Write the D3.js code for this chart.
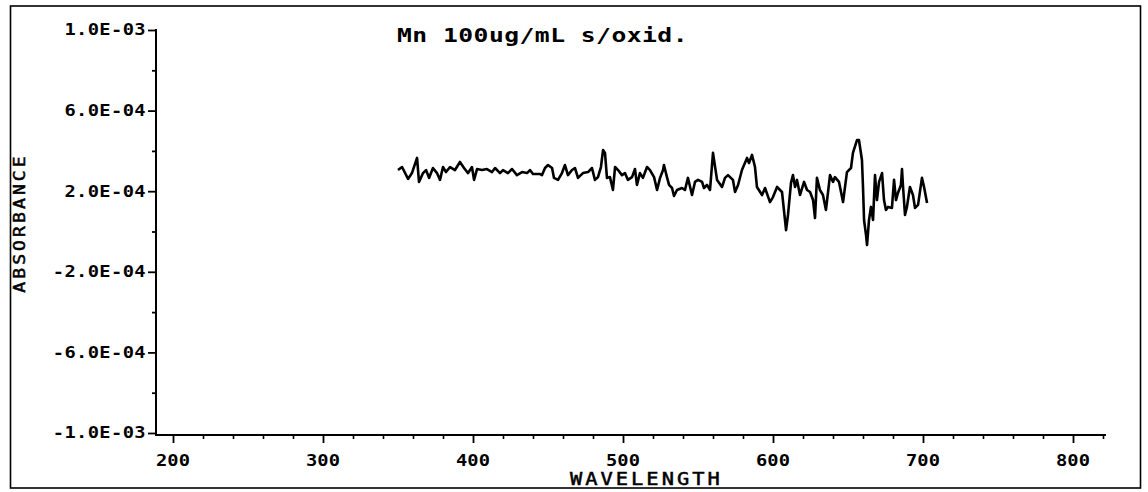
<!DOCTYPE html>
<html>
<head>
<meta charset="utf-8">
<script src="https://cdn.jsdelivr.net/npm/d3@7"></script>
<style>
  html, body { margin: 0; padding: 0; background: #fff; }
  svg { display: block; }
  text { font-family: "DejaVu Sans Mono", "Liberation Mono", monospace; fill: #000; }
</style>
</head>
<body>
<svg id="chart" width="1148" height="492"></svg>
<script>
// ---- Data ----
const titleText = "Mn 100ug/mL s/oxid.";
const xLabel = "WAVELENGTH";
const yLabel = "ABSORBANCE";
const xMajorTicks = [200, 300, 400, 500, 600, 700, 800];
const yMajorTicks = [1.0e-3, 6.0e-4, 2.0e-4, -2.0e-4, -6.0e-4, -1.0e-3];
const yMinorTicks = [8e-4, 4e-4, 0, -4e-4, -8e-4];

// wavelength (nm)
const wavelength = [
  350, 352.7, 356.7, 359.3, 362.7, 364, 366.7, 368.7, 370.7, 373.3, 376, 378, 380, 382, 384.7, 388,
  391.3, 394, 396.7, 399.3, 400.7, 402.7, 406, 409.3, 412.7, 414.7, 418, 420, 423.3, 426, 429.3,
  432.7, 436, 438, 440, 444.7, 446, 448, 450, 452.7, 454, 456.7, 459.3, 461.3, 463.3, 466, 468,
  470, 473.3, 476.7, 479.3, 481.3, 483.3, 485.3, 486.7, 488, 489.3, 491.3, 493.3, 494.7, 496.7,
  499.3, 501.3, 503.3, 506, 508, 509.3, 511.3, 513.3, 516, 518, 520.7, 522.7, 524.7, 526.7, 527.3,
  529.3, 530.7, 532.7, 534, 536, 539.3, 541.3, 543.3, 546, 548, 550, 552.7, 554, 556, 558, 560,
  560.7, 562.7, 566, 568, 570, 573.3, 574.7, 576.7, 579.3, 582.7, 584, 586, 588, 589.3, 592.7,
  594.7, 598, 600, 602.7, 606, 608, 608.7, 610, 612, 613.3, 614.7, 616, 618, 620.7, 622.7, 624.7,
  626.7, 628, 629.3, 631.3, 633.3, 635.3, 636.7, 638, 640, 641.3, 644, 646.7, 648, 649.3, 652,
  653.3, 656, 657.3, 659.3, 660, 660.7, 662, 662.7, 664, 665.3, 666.7, 668, 669.3, 670.7, 672.7,
  674, 675.3, 676.7, 679.3, 680.7, 682, 683.3, 685.3, 686, 686.7, 688, 689.3, 691.3, 693.3, 694.7,
  696.7, 699.3, 700.7, 702.7
];
// absorbance, in units of 1E-04
const absorbanceE4 = [
  3.05, 3.20, 2.61, 2.90, 3.65, 2.46, 2.90, 3.05, 2.66, 3.15, 2.90, 2.56, 3.20, 2.95, 3.20, 3.05,
  3.45, 3.15, 2.90, 3.20, 2.56, 3.10, 3.05, 3.10, 2.95, 3.15, 2.90, 3.05, 2.90, 3.10, 2.80,
  2.95, 2.90, 3.05, 2.85, 2.85, 2.80, 3.15, 3.30, 3.15, 2.66, 2.56, 2.90, 3.30, 2.80, 3.05, 3.15,
  2.66, 2.90, 2.95, 3.15, 2.56, 2.70, 3.20, 4.04, 3.90, 2.66, 2.70, 2.06, 3.20, 3.05,
  2.80, 2.90, 2.56, 2.70, 3.10, 2.31, 2.90, 2.66, 3.20, 3.05, 2.70, 2.06, 2.66, 3.05, 3.30,
  2.70, 2.31, 2.16, 1.76, 2.06, 2.16, 2.06, 2.66, 1.81, 2.46, 2.56, 2.46, 2.16, 2.31, 2.06, 3.90,
  3.55, 2.56, 2.21, 2.66, 2.80, 2.56, 1.96, 2.31, 3.05, 3.65, 3.40, 3.80, 3.20, 2.21, 1.81,
  2.16, 1.46, 1.71, 2.21, 1.96, 0.57, 0.07, 0.82, 2.41, 2.80, 2.21, 2.56, 1.81, 2.46, 2.06, 1.96,
  1.56, 0.67, 2.66, 2.06, 1.81, 1.07, 1.96, 2.80, 2.46, 2.70, 2.46, 1.46, 2.21, 2.95, 3.15,
  3.90, 4.54, 4.54, 3.55, 2.21, 0.57, -0.17, -0.67, 0.57, 1.22, 0.57, 2.80, 1.56, 2.46, 2.90,
  1.56, 1.07, 1.22, 1.17, 2.56, 1.56, 1.91, 2.31, 3.10, 2.21, 0.82, 1.22, 2.21, 1.81, 1.17,
  1.32, 2.66, 2.21, 1.41
];

// ---- Chart ----
const svg = d3.select("#chart");
const x = d3.scaleLinear().domain([200, 800]).range([173, 1073]);
const y = d3.scaleLinear().domain([-1e-3, 1e-3]).range([433, 30]);

const axisLeftX = 156, axisBottomY = 435, axisRightX = 1106;
const FONT = "DejaVu Sans Mono, monospace";

function sci(v) {
  if (Math.abs(v) < 1e-12) return "0.0E+00";
  const e = Math.floor(Math.log10(Math.abs(v)) + 1e-9);
  const m = v / Math.pow(10, e);
  return m.toFixed(1) + "E" + (e < 0 ? "-" : "+") + String(Math.abs(e)).padStart(2, "0");
}

// border
svg.append("rect")
  .attr("x", 10.5).attr("y", 6).attr("width", 1130).attr("height", 482)
  .attr("fill", "none").attr("stroke", "#000").attr("stroke-width", 1.6);

// axis lines
svg.append("line")
  .attr("x1", axisLeftX).attr("x2", axisLeftX)
  .attr("y1", y(1e-3) - 1).attr("y2", axisBottomY + 1)
  .attr("stroke", "#000").attr("stroke-width", 2);
svg.append("line")
  .attr("x1", axisLeftX).attr("x2", axisRightX)
  .attr("y1", axisBottomY).attr("y2", axisBottomY)
  .attr("stroke", "#000").attr("stroke-width", 2);

// Y axis major ticks (labels drawn separately, stretched like the plotter font)
const yAxis = d3.axisLeft(y).tickValues(yMajorTicks).tickSize(8).tickFormat("");
const gy = svg.append("g").attr("transform", `translate(${axisLeftX},0)`).call(yAxis);
gy.select(".domain").remove();
gy.selectAll("line").attr("stroke", "#000").attr("stroke-width", 1.8);

svg.append("g").selectAll("text")
  .data(yMajorTicks)
  .join("text")
  .attr("transform", d => `translate(146,${y(d)}) scale(1.25,1)`)
  .attr("text-anchor", "end")
  .attr("dy", "0.36em")
  .attr("font-family", FONT)
  .attr("font-weight", "bold")
  .attr("font-size", 15)
  .style("letter-spacing", "0.3px")
  .text(sci);

// Y axis minor
const yAxisMinor = d3.axisLeft(y).tickValues(yMinorTicks).tickSize(4).tickFormat("");
const gym = svg.append("g").attr("transform", `translate(${axisLeftX},0)`).call(yAxisMinor);
gym.select(".domain").remove();
gym.selectAll("line").attr("stroke", "#000").attr("stroke-width", 1.8);

// X axis major
const xAxis = d3.axisBottom(x).tickValues(xMajorTicks).tickSize(8).tickFormat("");
const gx = svg.append("g").attr("transform", `translate(0,${axisBottomY})`).call(xAxis);
gx.select(".domain").remove();
gx.selectAll("line").attr("stroke", "#000").attr("stroke-width", 1.8);

svg.append("g").selectAll("text")
  .data(xMajorTicks)
  .join("text")
  .attr("transform", d => `translate(${x(d)},466) scale(1.25,1)`)
  .attr("text-anchor", "middle")
  .attr("font-family", FONT)
  .attr("font-weight", "bold")
  .attr("font-size", 15)
  .style("letter-spacing", "0px")
  .text(d3.format("d"));

// X axis minor
const xMinor = d3.range(200, 821, 20).filter(v => v % 100 !== 0);
const xAxisMinor = d3.axisBottom(x).tickValues(xMinor).tickSize(4).tickFormat("");
const gxm = svg.append("g").attr("transform", `translate(0,${axisBottomY})`).call(xAxisMinor);
gxm.select(".domain").remove();
gxm.selectAll("line").attr("stroke", "#000").attr("stroke-width", 1.6);

// data line
const data = wavelength.map((w, i) => ({ w, a: absorbanceE4[i] * 1e-4 }));
const line = d3.line().x(d => x(d.w)).y(d => y(d.a));
svg.append("path")
  .datum(data)
  .attr("d", line)
  .attr("fill", "none")
  .attr("stroke", "#000")
  .attr("stroke-width", 2.6)
  .attr("stroke-linejoin", "round");

// title
svg.append("text")
  .attr("transform", "translate(397,42) scale(1.3,1)")
  .attr("font-family", FONT)
  .attr("font-weight", "bold")
  .attr("font-size", 19)
  .style("letter-spacing", "0.35px")
  .text(titleText);

// x label
svg.append("text")
  .attr("transform", "translate(570,485) scale(1.2,1)")
  .attr("font-family", FONT)
  .attr("font-size", 17)
  .attr("stroke", "#000").attr("stroke-width", 0.5)
  .style("letter-spacing", "2.5px")
  .text(xLabel);

// y label
svg.append("text")
  .attr("transform", "translate(25,223) rotate(-90) scale(1.2,1)")
  .attr("text-anchor", "middle")
  .attr("font-family", FONT)
  .attr("font-size", 15)
  .attr("stroke", "#000").attr("stroke-width", 0.5)
  .style("letter-spacing", "2.6px")
  .text(yLabel);
</script>
</body>
</html>
